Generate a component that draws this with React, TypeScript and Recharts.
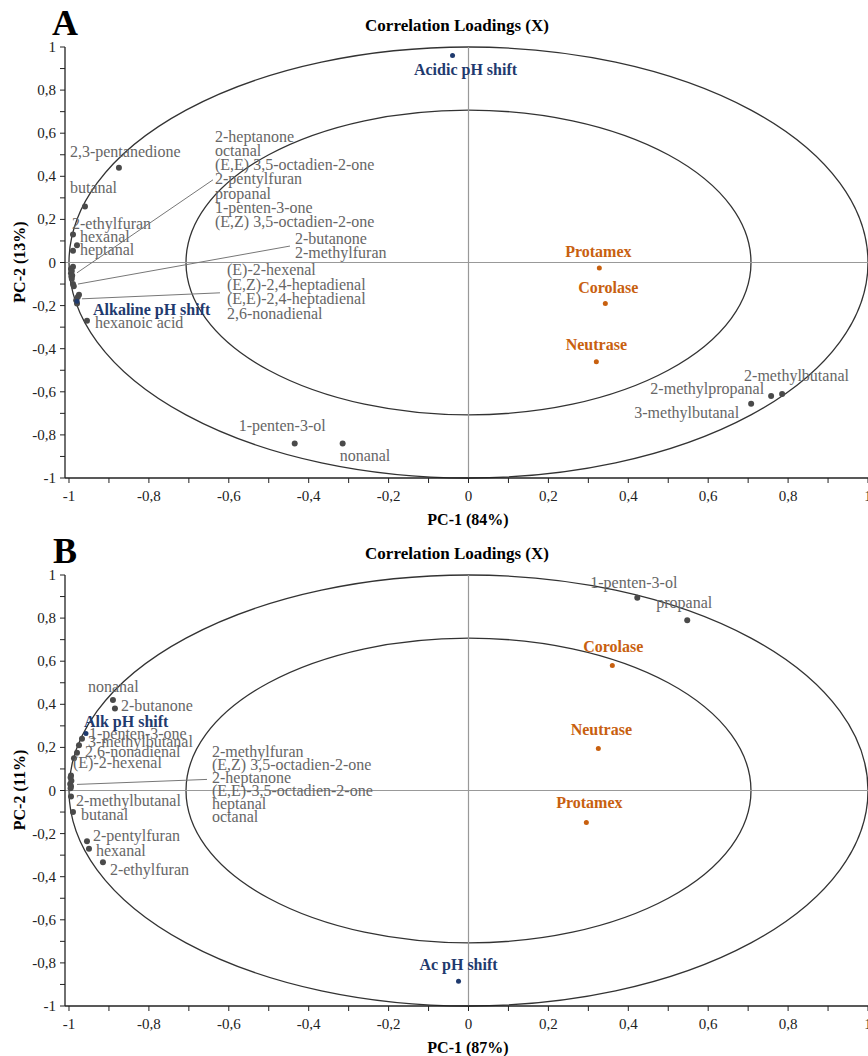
import React from 'react';
import { ScatterChart, Scatter, XAxis, YAxis, ReferenceLine, ReferenceArea } from 'recharts';

const FONT = '"Liberation Serif", "Times New Roman", serif';
const GREY_DOT = '#4a4a4a';
const GREY_TXT = '#666666';
const BLUE = '#1f3a6e';
const ORANGE = '#c8600f';

const TICKS = [-1, -0.9, -0.8, -0.7, -0.6, -0.5, -0.4, -0.3, -0.2, -0.1, 0, 0.1, 0.2, 0.3, 0.4, 0.5, 0.6, 0.7, 0.8, 0.9, 1];
const INNER_R = Math.SQRT1_2;

// ---------- Panel A data ----------
const A_COMPOUNDS = ['2,3-pentanedione', 'butanal', '2-ethylfuran', 'hexanal', 'heptanal', '2-heptanone', 'octanal', '(E,E) 3,5-octadien-2-one', '2-pentylfuran', 'propanal', '1-penten-3-one', '(E,Z) 3,5-octadien-2-one', '2-butanone', '2-methylfuran', '(E)-2-hexenal', '(E,Z)-2,4-heptadienal', '(E,E)-2,4-heptadienal', '2,6-nonadienal', 'hexanoic acid', '1-penten-3-ol', 'nonanal', '3-methylbutanal', '2-methylpropanal', '2-methylbutanal'];
const A_COMP_PC1 = [-0.875, -0.96, -0.99, -0.98, -0.99, -0.99, -0.995, -0.993, -0.995, -0.992, -0.994, -0.993, -0.99, -0.988, -0.975, -0.978, -0.982, -0.98, -0.955, -0.435, -0.315, 0.7075, 0.7575, 0.785];
const A_COMP_PC2 = [0.44, 0.26, 0.13, 0.08, 0.055, -0.02, -0.03, -0.04, -0.05, -0.06, -0.065, -0.075, -0.1, -0.11, -0.15, -0.16, -0.175, -0.19, -0.27, -0.84, -0.84, -0.655, -0.62, -0.61];
const A_ENZYMES = ['Protamex', 'Corolase', 'Neutrase'];
const A_ENZ_PC1 = [0.3275, 0.3425, 0.32];
const A_ENZ_PC2 = [-0.025, -0.19, -0.46];
const A_SHIFTS = ['Acidic pH shift', 'Alkaline pH shift'];
const A_SHIFT_PC1 = [-0.04, -0.98];
const A_SHIFT_PC2 = [0.96, -0.18];

// ---------- Panel B data ----------
const B_COMPOUNDS = ['1-penten-3-ol', 'propanal', 'nonanal', '2-butanone', '1-penten-3-one', '3-methylbutanal', '2,6-nonadienal', '(E)-2-hexenal', '2-methylfuran', '(E,Z) 3,5-octadien-2-one', '2-heptanone', '(E,E)-3,5-octadien-2-one', 'heptanal', 'octanal', '2-methylbutanal', 'butanal', '2-pentylfuran', 'hexanal', '2-ethylfuran'];
const B_COMP_PC1 = [0.4225, 0.5475, -0.89, -0.885, -0.9675, -0.975, -0.98, -0.9875, -0.995, -0.996, -0.994, -0.997, -0.995, -0.996, -0.995, -0.99, -0.955, -0.95, -0.915];
const B_COMP_PC2 = [0.895, 0.79, 0.42, 0.38, 0.24, 0.21, 0.175, 0.15, 0.07, 0.06, 0.045, 0.03, 0.02, 0.01, -0.028, -0.1, -0.235, -0.27, -0.333];
const B_ENZYMES = ['Corolase', 'Neutrase', 'Protamex'];
const B_ENZ_PC1 = [0.36, 0.325, 0.295];
const B_ENZ_PC2 = [0.58, 0.195, -0.148];
const B_SHIFTS = ['Alk pH shift', 'Ac pH shift'];
const B_SHIFT_PC1 = [-0.9575, -0.025];
const B_SHIFT_PC2 = [0.265, -0.885];

// ---------- label layout (pixel offsets from the point) ----------
type Lbl = { dx: number; dy: number; anchor?: 'start' | 'middle' | 'end' };
type Group = { members: string[]; dx: number; dy: number; lh: number; leader: [number, number, number, number] };

const A_LABELS: Record<string, Lbl> = {
  'Acidic pH shift': { dx: 13, dy: 19, anchor: 'middle' },
  'Alkaline pH shift': { dx: 16, dy: 14 },
  '2,3-pentanedione': { dx: -49, dy: -11 },
  'butanal': { dx: -15, dy: -13 },
  '2-ethylfuran': { dx: -1, dy: -5 },
  'hexanal': { dx: 3, dy: -3 },
  'heptanal': { dx: 7, dy: 4 },
  'hexanoic acid': { dx: 8, dy: 7 },
  '1-penten-3-ol': { dx: 31, dy: -13, anchor: 'end' },
  'nonanal': { dx: -3, dy: 17 },
  'Protamex': { dx: -1, dy: -11, anchor: 'middle' },
  'Corolase': { dx: 3, dy: -10, anchor: 'middle' },
  'Neutrase': { dx: 0, dy: -12, anchor: 'middle' },
  '3-methylbutanal': { dx: -12, dy: 14, anchor: 'end' },
  '2-methylpropanal': { dx: -7, dy: -2, anchor: 'end' },
  '2-methylbutanal': { dx: -38, dy: -13 },
};
const A_GROUPS: Group[] = [
  { members: ['2-heptanone', 'octanal', '(E,E) 3,5-octadien-2-one', '2-pentylfuran', 'propanal', '1-penten-3-one', '(E,Z) 3,5-octadien-2-one'], dx: 142, dy: -125, lh: 14.2, leader: [4, 6, 140, -87] },
  { members: ['2-butanone', '2-methylfuran'], dx: 222, dy: -40, lh: 14, leader: [5, 0, 217, -38] },
  { members: ['(E)-2-hexenal', '(E,Z)-2,4-heptadienal', '(E,E)-2,4-heptadienal', '2,6-nonadienal'], dx: 148, dy: -20, lh: 14.7, leader: [3, 4, 141, -2] },
];

const B_LABELS: Record<string, Lbl> = {
  '1-penten-3-ol': { dx: -47, dy: -10 },
  'propanal': { dx: -31, dy: -12 },
  'Corolase': { dx: 1, dy: -14, anchor: 'middle' },
  'Neutrase': { dx: 3, dy: -13, anchor: 'middle' },
  'Protamex': { dx: 3, dy: -14, anchor: 'middle' },
  'Ac pH shift': { dx: 0, dy: -11, anchor: 'middle' },
  'nonanal': { dx: -25, dy: -8 },
  '2-butanone': { dx: 6, dy: 2 },
  'Alk pH shift': { dx: -2, dy: -6 },
  '1-penten-3-one': { dx: 7, dy: 0 },
  '3-methylbutanal': { dx: 9, dy: 2 },
  '2,6-nonadienal': { dx: 8, dy: 4 },
  '(E)-2-hexenal': { dx: -1, dy: 10 },
  '2-methylbutanal': { dx: 5, dy: 9 },
  'butanal': { dx: 8, dy: 8 },
  '2-pentylfuran': { dx: 6, dy: 0 },
  'hexanal': { dx: 7, dy: 7 },
  '2-ethylfuran': { dx: 7, dy: 13 },
};
const B_GROUPS: Group[] = [
  { members: ['2-methylfuran', '(E,Z) 3,5-octadien-2-one', '2-heptanone', '(E,E)-3,5-octadien-2-one', 'heptanal', 'octanal'], dx: 141, dy: -18, lh: 13, leader: [6, 9, 136, 4] },
];

const build = (names: string[], xs: number[], ys: number[]) => names.map((name, i) => ({ name, x: xs[i], y: ys[i] }));

const isMajor = (v: number) => Math.abs(Math.round(v * 10)) % 2 === 0;
const fmt = (v: number) => {
  const r = Math.round(v * 10) / 10;
  if (Number.isInteger(r)) return String(r);
  return r.toFixed(1).replace('.', ',');
};

const XTick = (props: any) => {
  const { x, y, payload } = props;
  if (!isMajor(payload.value)) return <g />;
  return (
    <text x={x} y={y + 16} textAnchor="middle" fontFamily={FONT} fontSize={15} fill="#222">{fmt(payload.value)}</text>
  );
};
const YTick = (props: any) => {
  const { x, y, payload } = props;
  if (!isMajor(payload.value)) return <g />;
  return (
    <text x={x - 2} y={y + 5} textAnchor="end" fontFamily={FONT} fontSize={15} fill="#222">{fmt(payload.value)}</text>
  );
};

const circleShape = (p: any) => (
  <ellipse cx={p.x + p.width / 2} cy={p.y + p.height / 2} rx={Math.abs(p.width) / 2} ry={Math.abs(p.height) / 2} fill="none" stroke="#333" strokeWidth={1.3} />
);

const makeShape = (labels: Record<string, Lbl>, groups: Group[], dotColor: string, txtColor: string, bold: boolean, r: number) => (p: any) => {
  const { cx, cy, payload } = p;
  const name = payload.name;
  const lbl = labels[name];
  const grp = groups.find((g) => g.members[0] === name);
  return (
    <g>
      <circle cx={cx} cy={cy} r={r} fill={dotColor} />
      {lbl && (
        <text x={cx + lbl.dx} y={cy + lbl.dy} textAnchor={lbl.anchor || 'start'} fontFamily={FONT} fontSize={16} fontWeight={bold ? 'bold' : 'normal'} fill={txtColor}>{name}</text>
      )}
      {grp && (
        <g>
          <line x1={cx + grp.leader[0]} y1={cy + grp.leader[1]} x2={cx + grp.leader[2]} y2={cy + grp.leader[3]} stroke="#777" strokeWidth={1} />
          {grp.members.map((m, i) => (
            <text key={m} x={cx + grp.dx} y={cy + grp.dy + i * grp.lh} fontFamily={FONT} fontSize={16} fill={txtColor}>{m}</text>
          ))}
        </g>
      )}
    </g>
  );
};

type PanelProps = {
  letter: string; xLabel: string; yLabel: string;
  comps: any[]; enz: any[]; shifts: any[];
  labels: Record<string, Lbl>; groups: Group[];
};

const Panel = ({ letter, xLabel, yLabel, comps, enz, shifts, labels, groups }: PanelProps) => (
  <div style={{ position: 'relative', width: 868, height: 528 }}>
    <ScatterChart width={868} height={528} margin={{ top: 47, right: 0, bottom: 0, left: 0 }}>
      <XAxis type="number" dataKey="x" domain={[-1.01, 1]} ticks={TICKS} interval={0} allowDataOverflow height={50} tickSize={5} tick={<XTick />} axisLine={{ stroke: '#222', strokeWidth: 1.3 }} tickLine={{ stroke: '#222' }} />
      <YAxis type="number" dataKey="y" domain={[-1, 1]} ticks={TICKS} interval={0} allowDataOverflow width={65} tickSize={5} tick={<YTick />} axisLine={{ stroke: '#222', strokeWidth: 1.3 }} tickLine={{ stroke: '#222' }} />
      <ReferenceArea x1={-1} x2={1} y1={-1} y2={1} shape={circleShape} ifOverflow="visible" />
      <ReferenceArea x1={-INNER_R} x2={INNER_R} y1={-INNER_R} y2={INNER_R} shape={circleShape} ifOverflow="visible" />
      <ReferenceLine x={0} stroke="#999" strokeWidth={1.2} />
      <ReferenceLine y={0} stroke="#999" strokeWidth={1.2} />
      <Scatter data={comps} isAnimationActive={false} shape={makeShape(labels, groups, GREY_DOT, GREY_TXT, false, 3)} />
      <Scatter data={shifts} isAnimationActive={false} shape={makeShape(labels, [], BLUE, BLUE, true, 2.5)} />
      <Scatter data={enz} isAnimationActive={false} shape={makeShape(labels, [], ORANGE, ORANGE, true, 2.5)} />
    </ScatterChart>
    <div style={{ position: 'absolute', left: 65, top: 23, transform: 'translate(-50%,-50%)', fontFamily: FONT, fontWeight: 'bold', fontSize: 36, lineHeight: 1 }}>{letter}</div>
    <div style={{ position: 'absolute', left: 457, top: 25, transform: 'translate(-50%,-50%)', fontFamily: FONT, fontWeight: 'bold', fontSize: 17, lineHeight: 1, whiteSpace: 'nowrap' }}>Correlation Loadings (X)</div>
    <div style={{ position: 'absolute', left: 468, top: 520, transform: 'translate(-50%,-50%)', fontFamily: FONT, fontWeight: 'bold', fontSize: 16, lineHeight: 1, whiteSpace: 'nowrap' }}>{xLabel}</div>
    <div style={{ position: 'absolute', left: 20, top: 262, transform: 'translate(-50%,-50%) rotate(-90deg)', fontFamily: FONT, fontWeight: 'bold', fontSize: 16, lineHeight: 1, whiteSpace: 'nowrap' }}>{yLabel}</div>
  </div>
);

export default function App() {
  return (
    <div style={{ position: 'absolute', left: 0, top: 0, width: 868, height: 1056, background: '#fff' }}>
      <Panel letter="A" xLabel="PC-1 (84%)" yLabel="PC-2 (13%)"
        comps={build(A_COMPOUNDS, A_COMP_PC1, A_COMP_PC2)}
        enz={build(A_ENZYMES, A_ENZ_PC1, A_ENZ_PC2)}
        shifts={build(A_SHIFTS, A_SHIFT_PC1, A_SHIFT_PC2)}
        labels={A_LABELS} groups={A_GROUPS} />
      <Panel letter="B" xLabel="PC-1 (87%)" yLabel="PC-2 (11%)"
        comps={build(B_COMPOUNDS, B_COMP_PC1, B_COMP_PC2)}
        enz={build(B_ENZYMES, B_ENZ_PC1, B_ENZ_PC2)}
        shifts={build(B_SHIFTS, B_SHIFT_PC1, B_SHIFT_PC2)}
        labels={B_LABELS} groups={B_GROUPS} />
    </div>
  );
}
